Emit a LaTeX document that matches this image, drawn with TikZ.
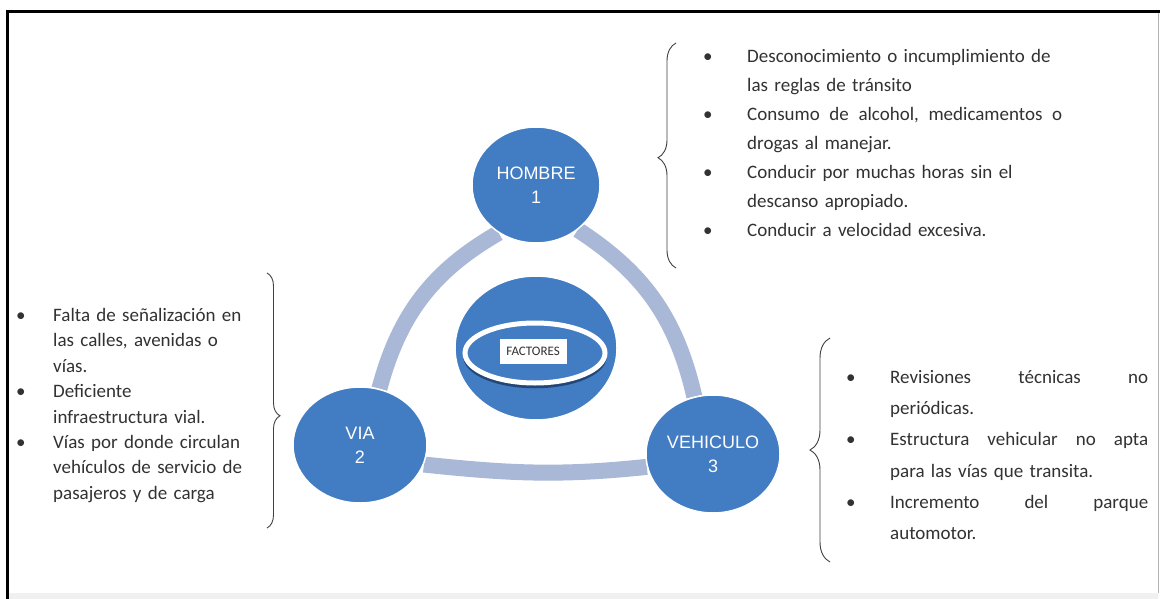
\documentclass[tikz,border=0pt]{standalone}
\usepackage{fontspec}
\setmainfont{Carlito}
\newfontfamily\circfont{Liberation Sans}
\usetikzlibrary{shapes.geometric,decorations.pathreplacing,backgrounds}
\definecolor{circblue}{RGB}{66,124,194}
\definecolor{bandblue}{RGB}{168,184,214}
\definecolor{ringshadow}{RGB}{35,70,120}
\definecolor{txtgray}{RGB}{50,50,50}
\newcommand{\jsp}{\hspace{0pt plus 1fil}\ }
\begin{document}
\begin{tikzpicture}[x=1pt,y=1pt,
  bigc/.style={ellipse, fill=circblue, draw=white, line width=1.5pt, inner sep=0pt,
    text=white, font=\circfont\fontsize{18}{24}\selectfont, align=center},
  band/.style={draw=bandblue, line width=16pt},
  listtext/.style={anchor=base west, inner sep=0pt, text width=420pt, align=left,
    text=txtgray},
  bracestyle/.style={decorate, draw=black!75, line width=0.9pt},
]
\useasboundingbox (0,0) rectangle (1161,-599);
\begin{scope}[on background layer]
\fill[white] (0,0) rectangle (1161,-599);
\end{scope}
% frame
\fill[gray!12] (8.5,-593) rectangle (1158,-599);
\draw[gray!60, line width=1.2pt] (1158.5,-12) -- (1158.5,-593);
\draw[line width=3pt] (7,-599) -- (7,-12) -- (1159.5,-12);

% circles
\node[bigc, minimum width=128pt, minimum height=116pt] (hom) at (536,-185) {HOMBRE\\1};
\node[bigc, minimum width=134pt, minimum height=116pt] (via) at (360,-445) {VIA\\2};
\node[bigc, minimum width=134pt, minimum height=118pt] (veh) at (713,-454) {VEHICULO\\3};
\node[bigc, minimum width=162pt, minimum height=144pt] (fac) at (536,-348) {};
\node[ellipse, draw=ringshadow, line width=3.5pt, minimum width=140pt, minimum height=60pt, inner sep=0pt] (ringsh) at (535,-356.5) {};
\node[ellipse, draw=white, fill=circblue, line width=5pt, minimum width=140pt, minimum height=60pt, inner sep=0pt] (ring) at (535,-353) {};
\node[fill=white, text=txtgray, font=\fontsize{13}{13}\selectfont, minimum width=67pt, minimum height=25pt, inner sep=1pt] (lab) at (533,-351) {FACTORES};

% bands
\begin{scope}[on background layer]
\draw[band] (hom.232) to[out=210,in=75] (via.71);
\draw[band] (hom.313) to[out=327,in=103] (veh.108);
\draw[band] (via.343) to[out=354,in=186] (veh.191);
\end{scope}

% braces
\draw[bracestyle, decoration={brace, amplitude=18pt, aspect=0.49}] (676,-268) -- (676,-43);
\draw[bracestyle, decoration={brace, amplitude=20pt, aspect=0.5}] (830,-562) -- (830,-338);
\draw[bracestyle, decoration={brace, amplitude=13pt, aspect=0.56}] (267,-273) -- (267,-528);

% lists
\node[listtext, font=\fontsize{19}{29}\selectfont] (tr) at (703,-62.5) {%
\makebox[44pt][l]{•}Desconocimiento o incumplimiento de\\
\hspace*{44pt}las reglas de tránsito\\
\makebox[44pt][l]{•}\makebox[315pt][s]{Consumo\jsp de\jsp alcohol,\jsp medicamentos\jsp o}\\
\hspace*{44pt}drogas al manejar.\\
\makebox[44pt][l]{•}Conducir por muchas horas sin el\\
\hspace*{44pt}descanso apropiado.\\
\makebox[44pt][l]{•}Conducir a velocidad excesiva.};

\node[listtext, font=\fontsize{19}{25.4}\selectfont] (lt) at (16,-321.5) {%
\makebox[37pt][l]{•}Falta de señalización en\\
\hspace*{37pt}las calles, avenidas o\\
\hspace*{37pt}vías.\\
\makebox[37pt][l]{•}Deficiente\\
\hspace*{37pt}infraestructura vial.\\
\makebox[37pt][l]{•}Vías por donde circulan\\
\hspace*{37pt}vehículos de servicio de\\
\hspace*{37pt}pasajeros y de carga};

\node[listtext, font=\fontsize{19}{31.2}\selectfont] (br) at (846,-383.5) {%
\makebox[44pt][l]{•}\makebox[258pt][s]{Revisiones\jsp técnicas\jsp no}\\
\hspace*{44pt}periódicas.\\
\makebox[44pt][l]{•}\makebox[258pt][s]{Estructura\jsp vehicular\jsp no\jsp apta}\\
\hspace*{44pt}para las vías que transita.\\
\makebox[44pt][l]{•}\makebox[258pt][s]{Incremento\jsp del\jsp parque}\\
\hspace*{44pt}automotor.};
\end{tikzpicture}
\end{document}
